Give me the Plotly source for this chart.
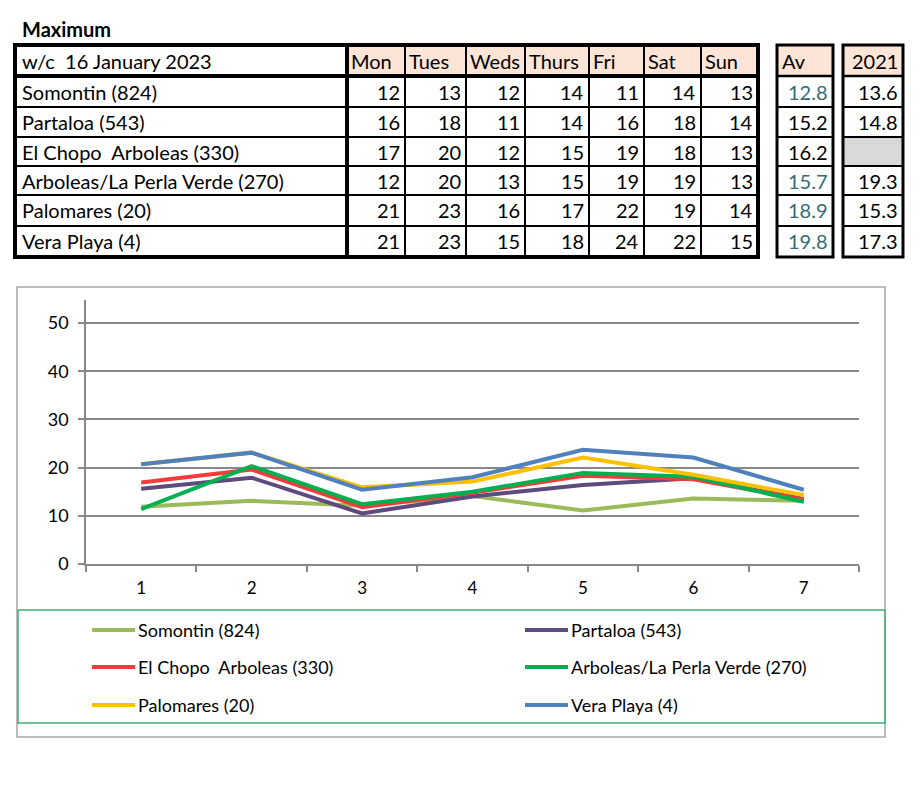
import plotly.graph_objects as go

# ---------------- data ----------------
title_text = "Maximum"
week_label = "w/c  16 January 2023"
days = ["Mon", "Tues", "Weds", "Thurs", "Fri", "Sat", "Sun"]
stations = ["Somontin (824)", "Partaloa (543)", "El Chopo  Arboleas (330)",
            "Arboleas/La Perla Verde (270)", "Palomares (20)", "Vera Playa (4)"]

# table values (daily maxima)
tbl_somontin = [12, 13, 12, 14, 11, 14, 13]
tbl_partaloa = [16, 18, 11, 14, 16, 18, 14]
tbl_el_chopo = [17, 20, 12, 15, 19, 18, 13]
tbl_arboleas = [12, 20, 13, 15, 19, 19, 13]
tbl_palomares = [21, 23, 16, 17, 22, 19, 14]
tbl_vera = [21, 23, 15, 18, 24, 22, 15]
avg_values = ["12.8", "15.2", "16.2", "15.7", "18.9", "19.8"]
prev_2021 = ["13.6", "14.8", "", "19.3", "15.3", "17.3"]
avg_header = "Av"
prev_header = "2021"

# chart values
chart_x = [1, 2, 3, 4, 5, 6, 7]
somontin = [11.9, 13.1, 12.1, 14.1, 11.1, 13.6, 13.1]
partaloa = [15.6, 17.9, 10.5, 14.0, 16.4, 17.8, 13.5]
el_chopo = [16.9, 19.6, 11.8, 14.8, 18.3, 17.6, 13.4]
arboleas = [11.4, 20.3, 12.4, 15.0, 18.9, 18.1, 12.9]
palomares = [20.7, 23.1, 15.9, 17.1, 22.1, 18.5, 14.3]
vera = [20.7, 23.1, 15.4, 18.0, 23.7, 22.1, 15.4]
y_ticks = [0, 10, 20, 30, 40, 50]

# ---------------- styles ----------------
colors = ["#9BBB59", "#5F4A7D", "#F43A3A", "#00B050", "#FFC000", "#4F81BD"]
FONT = "Lato"
TSIZE = 20
W, H = 923, 800
L, R, T, B = 86, 64, 300, 236
PW, PH = W - L - R, H - T - B


def px(x):
    return (x - L) / PW


def py(y):
    return (H - B - y) / PH


fig = go.Figure()
series = [somontin, partaloa, el_chopo, arboleas, palomares, vera]
for name, vals, col in zip(stations, series, colors):
    fig.add_trace(go.Scatter(x=chart_x, y=vals, mode="lines", name=name,
                             line=dict(color=col, width=4), showlegend=False,
                             hoverinfo="skip"))

shapes = []
annos = []


def rect(x0, y0, x1, y1, fill=None, line_color="black", lw=0):
    shapes.append(dict(type="rect", xref="paper", yref="paper",
                       x0=px(x0), x1=px(x1), y0=py(y0), y1=py(y1),
                       fillcolor=fill if fill else "rgba(0,0,0,0)",
                       line=dict(color=line_color, width=lw), layer="above"))


def hline(x0, x1, y, lw=2, color="black"):
    shapes.append(dict(type="line", xref="paper", yref="paper",
                       x0=px(x0), x1=px(x1), y0=py(y), y1=py(y),
                       line=dict(color=color, width=lw), layer="above"))


def vline(x, y0, y1, lw=2, color="black"):
    shapes.append(dict(type="line", xref="paper", yref="paper",
                       x0=px(x), x1=px(x), y0=py(y0), y1=py(y1),
                       line=dict(color=color, width=lw), layer="above"))


def text(x, y, s, anchor="left", size=TSIZE, color="black", bold=False):
    if bold:
        s = "<b>" + s + "</b>"
    annos.append(dict(xref="paper", yref="paper", x=px(x), y=py(y), text=s,
                      showarrow=False, xanchor=anchor, yanchor="middle",
                      font=dict(family=FONT, size=size, color=color)))


# title
text(20, 29, title_text, size=20, bold=True)

# ---- main table ----
peach = "#FCE4D6"
col_edges = [347, 405, 466, 525, 589, 644, 701, 758]
row_edges = [45, 76, 107, 137, 166, 195, 226, 257]
rect(col_edges[0], row_edges[0], col_edges[-1], row_edges[1], fill=peach)
for i in range(1, 7):
    vline(col_edges[i], row_edges[0], row_edges[-1], lw=2)
for j in range(2, 7):
    hline(15, col_edges[-1], row_edges[j], lw=2)
hline(15, col_edges[-1], row_edges[1], lw=4)
vline(col_edges[0], row_edges[0], row_edges[-1], lw=4)
rect(15, row_edges[0], col_edges[-1], row_edges[-1], lw=4)

text(20, (row_edges[0] + row_edges[1]) / 2, week_label)
for i, d in enumerate(days):
    text(col_edges[i] + 2, (row_edges[0] + row_edges[1]) / 2, d)

tbl_rows = [tbl_somontin, tbl_partaloa, tbl_el_chopo, tbl_arboleas, tbl_palomares, tbl_vera]
for j, (st, vals) in enumerate(zip(stations, tbl_rows)):
    yc = (row_edges[j + 1] + row_edges[j + 2]) / 2
    text(20, yc, st)
    for i, v in enumerate(vals):
        text(col_edges[i + 1] - 3, yc, str(v), anchor="right")

# ---- Av box ----
teal = "#336C78"
av_black = {1, 2}
ax0, ax1 = 777, 833
rect(ax0, row_edges[0], ax1, row_edges[1], fill=peach)
for j in range(1, 7):
    hline(ax0, ax1, row_edges[j], lw=2.5 if j == 1 else 2)
rect(ax0, row_edges[0], ax1, row_edges[-1], lw=3)
text(ax0 + 3, (row_edges[0] + row_edges[1]) / 2, avg_header)
for j, v in enumerate(avg_values):
    yc = (row_edges[j + 1] + row_edges[j + 2]) / 2
    text(ax1 - 3, yc, v, anchor="right", color="black" if j in av_black else teal)

# ---- 2021 box ----
bx0, bx1 = 843, 903
rect(bx0, row_edges[0], bx1, row_edges[1], fill=peach)
for j, v in enumerate(prev_2021):
    if v == "":
        rect(bx0, row_edges[j + 1], bx1, row_edges[j + 2], fill="#D9D9D9")
for j in range(1, 7):
    hline(bx0, bx1, row_edges[j], lw=2.5 if j == 1 else 2)
rect(bx0, row_edges[0], bx1, row_edges[-1], lw=3)
text(bx1 - 3, (row_edges[0] + row_edges[1]) / 2, prev_header, anchor="right")
for j, v in enumerate(prev_2021):
    yc = (row_edges[j + 1] + row_edges[j + 2]) / 2
    if v:
        text(bx1 - 3, yc, v, anchor="right")

# ---- chart frame ----
rect(17, 287, 885, 737, line_color="#A6A6A6", lw=1.5)

# ---- legend ----
rect(18, 610, 885, 723, line_color="#3FAE74", lw=1.5)
leg_cols = [(92, 135), (525, 568)]
leg_rows = [630, 667, 705]
for k, (name, col) in enumerate(zip(stations, colors)):
    cx0, cx1 = leg_cols[k % 2]
    yy = leg_rows[k // 2]
    hline(cx0, cx1, yy, lw=4, color=col)
    text(cx1 + 1, yy, name, size=18)

fig.update_layout(
    width=W, height=H, autosize=False,
    margin=dict(l=L, r=R, t=T, b=B, pad=0),
    paper_bgcolor="white", plot_bgcolor="white",
    shapes=shapes, annotations=annos,
    xaxis=dict(range=[0.5, 7.5], tickvals=chart_x, ticktext=[str(v) for v in chart_x],
               ticks="", showgrid=False, zeroline=False, showline=True,
               linecolor="#888888", linewidth=1.5,
               tickfont=dict(family=FONT, size=17, color="black"),
               ticklabelstandoff=8,
               minor=dict(tickvals=[0.5 + i for i in range(8)], ticks="outside",
                          ticklen=6, tickcolor="#888888", tickwidth=1.5, showgrid=False)),
    yaxis=dict(range=[0, 54.77], tickvals=y_ticks, ticks="outside", ticklen=6,
               tickcolor="#888888", tickwidth=1.5,
               showgrid=True, gridcolor="#888888", gridwidth=1.5, zeroline=False,
               showline=True, linecolor="#888888", linewidth=1.5,
               tickfont=dict(family=FONT, size=18, color="black"),
               ticklabelstandoff=6),
)

fig.write_html("out.html", config={"displayModeBar": False},
               post_script="document.body.style.margin='0';document.body.style.padding='0';")
